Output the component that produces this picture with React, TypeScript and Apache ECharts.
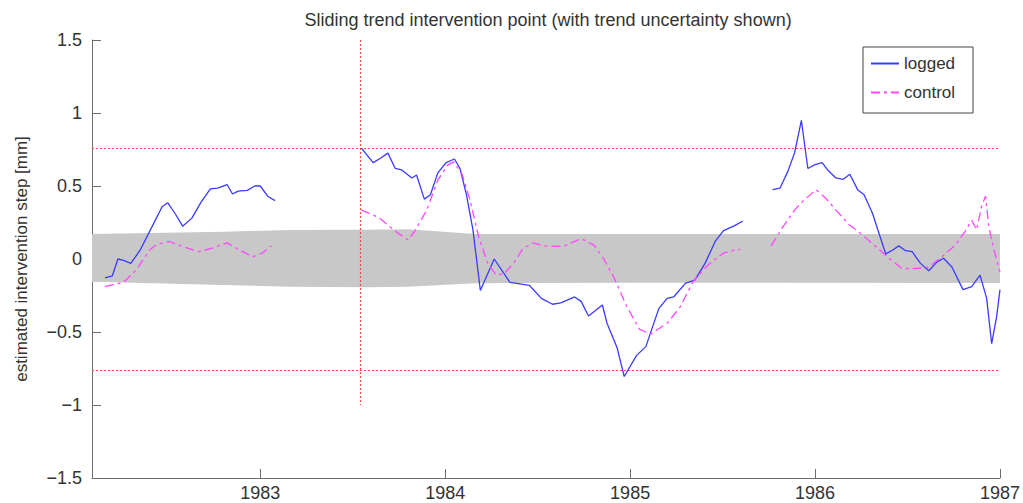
import React, { useEffect, useRef } from "react";
import * as echarts from "echarts";

// ---- data (years on x, estimated step [mm] on y) ----
const logged1: [number, number][] = [
  [1982.16, -0.13], [1982.2, -0.115], [1982.23, 0.0], [1982.26, -0.01], [1982.3, -0.03],
  [1982.35, 0.06], [1982.39, 0.16], [1982.47, 0.36], [1982.5, 0.385], [1982.54, 0.31],
  [1982.58, 0.225], [1982.63, 0.28], [1982.68, 0.39], [1982.73, 0.48], [1982.77, 0.485],
  [1982.82, 0.51], [1982.85, 0.445], [1982.88, 0.465], [1982.93, 0.47], [1982.97, 0.5],
  [1983.0, 0.5], [1983.04, 0.43], [1983.08, 0.4],
];
const logged2: [number, number][] = [
  [1983.547, 0.76], [1983.61, 0.66], [1983.65, 0.69], [1983.69, 0.725], [1983.73, 0.62],
  [1983.765, 0.61], [1983.82, 0.555], [1983.845, 0.575], [1983.887, 0.41], [1983.92, 0.44],
  [1983.96, 0.59], [1984.005, 0.66], [1984.05, 0.685], [1984.08, 0.62], [1984.115, 0.44],
  [1984.15, 0.2], [1984.19, -0.215], [1984.265, 0.0], [1984.35, -0.16], [1984.455, -0.18],
  [1984.52, -0.27], [1984.58, -0.31], [1984.625, -0.3], [1984.7, -0.26], [1984.735, -0.29],
  [1984.775, -0.39], [1984.85, -0.315], [1984.875, -0.44], [1984.93, -0.61], [1984.968, -0.805],
  [1985.035, -0.66], [1985.085, -0.6], [1985.155, -0.34], [1985.2, -0.27], [1985.235, -0.26],
  [1985.3, -0.165], [1985.35, -0.145], [1985.405, -0.03], [1985.46, 0.12], [1985.505, 0.195],
  [1985.56, 0.225], [1985.61, 0.26],
];
const logged3: [number, number][] = [
  [1985.77, 0.475], [1985.81, 0.485], [1985.853, 0.6], [1985.89, 0.73], [1985.926, 0.95],
  [1985.961, 0.62], [1985.997, 0.645], [1986.038, 0.66], [1986.068, 0.61], [1986.113, 0.555],
  [1986.15, 0.545], [1986.188, 0.58], [1986.23, 0.475], [1986.265, 0.44], [1986.31, 0.315],
  [1986.346, 0.175], [1986.382, 0.035], [1986.418, 0.06], [1986.453, 0.09], [1986.49, 0.057],
  [1986.525, 0.05], [1986.57, -0.03], [1986.615, -0.08], [1986.66, -0.02], [1986.695, 0.005],
  [1986.74, -0.055], [1986.8, -0.21], [1986.847, -0.19], [1986.892, -0.11], [1986.928, -0.27],
  [1986.955, -0.58], [1986.982, -0.395], [1987.0, -0.21],
];
const control1: [number, number][] = [
  [1982.16, -0.19], [1982.26, -0.16], [1982.33, -0.075], [1982.4, 0.06], [1982.44, 0.1],
  [1982.51, 0.12], [1982.58, 0.085], [1982.67, 0.05], [1982.74, 0.075], [1982.82, 0.11],
  [1982.89, 0.06], [1982.96, 0.015], [1983.01, 0.04], [1983.06, 0.09],
];
const control2: [number, number][] = [
  [1983.547, 0.335], [1983.64, 0.285], [1983.73, 0.19], [1983.8, 0.13], [1983.835, 0.19],
  [1983.9, 0.335], [1983.96, 0.54], [1984.015, 0.645], [1984.045, 0.665], [1984.09, 0.585],
  [1984.135, 0.4], [1984.18, 0.155], [1984.23, -0.03], [1984.275, -0.11], [1984.32, -0.1],
  [1984.375, -0.02], [1984.42, 0.07], [1984.475, 0.11], [1984.555, 0.085], [1984.645, 0.09],
  [1984.735, 0.14], [1984.805, 0.095], [1984.86, -0.005], [1984.91, -0.12], [1984.98, -0.32],
  [1985.05, -0.48], [1985.11, -0.515], [1985.2, -0.44], [1985.27, -0.33], [1985.34, -0.155],
  [1985.395, -0.075], [1985.44, -0.02], [1985.505, 0.04], [1985.56, 0.06], [1985.595, 0.065],
];
const control3: [number, number][] = [
  [1985.763, 0.09], [1985.826, 0.22], [1985.889, 0.335], [1985.934, 0.395], [1986.005, 0.475],
  [1986.059, 0.415], [1986.113, 0.335], [1986.185, 0.235], [1986.256, 0.165], [1986.328, 0.085],
  [1986.4, 0.005], [1986.47, -0.065], [1986.543, -0.065], [1986.615, -0.055], [1986.686, 0.015],
  [1986.758, 0.095], [1986.812, 0.19], [1986.847, 0.265], [1986.874, 0.2], [1986.9, 0.36],
  [1986.922, 0.43], [1986.94, 0.22], [1986.963, 0.085], [1987.0, -0.09],
];

// trend uncertainty band
const bandX = [1982.09, 1982.8, 1983.16, 1983.57, 1983.8, 1984.16, 1985.09, 1987.0];
const bandUpper = [0.171, 0.187, 0.199, 0.201, 0.203, 0.171, 0.171, 0.171];
const bandLower = [-0.155, -0.178, -0.19, -0.194, -0.19, -0.166, -0.162, -0.164];

// thresholds and intervention marker
const thresholds = [0.76, -0.76];
const interventionYear = 1983.54;
const interventionSpan = [1.5, -1.0];

const xTickValues = [1983, 1984, 1985, 1986, 1987];
const xMin = 1982.09;
const xMax = 1987;
const yMin = -1.5;
const yMax = 1.5;

const FONT = "'Liberation Sans', Arial, sans-serif";
const BLUE = "#3b3bff";
const MAGENTA = "#ff45ff";
const RED = "#ff4444";
const TEXT = "#333";
const AXIS = "#6e6e6e";

export default function App() {
  const ref = useRef<HTMLDivElement>(null);
  useEffect(() => {
    if (!ref.current) return;
    const chart = echarts.init(ref.current, undefined, { renderer: "svg" });
    const loggedStyle = { color: BLUE, width: 1.3, type: "solid" as const };
    const controlStyle = { color: MAGENTA, width: 1.3, type: [9, 4, 3, 4] as any };
    const lineSeries = (name: string, data: [number, number][], style: any) => ({
      name,
      type: "line",
      data,
      showSymbol: false,
      symbol: "none",
      color: style.color,
      lineStyle: style,
      z: 5,
      silent: true,
    });
    chart.setOption({
      animation: false,
      textStyle: { fontFamily: FONT },
      grid: { left: 92, right: 18, top: 40, bottom: 25, containLabel: false },
      graphic: [
        {
          type: "text",
          x: 548,
          y: 20,
          style: {
            text: "Sliding trend intervention point (with trend uncertainty shown)",
            fontFamily: FONT,
            fontSize: 18,
            fill: TEXT,
            align: "center",
            verticalAlign: "middle",
          },
        },
        {
          type: "rect",
          shape: { x: 863, y: 47, width: 110, height: 66 },
          style: { fill: "#fff", stroke: "#444", lineWidth: 1 },
          z: 10,
        },
      ],
      legend: {
        data: ["logged", "control"],
        orient: "vertical",
        left: 870,
        top: 55,
        padding: 0,
        itemWidth: 28,
        itemHeight: 17,
        itemGap: 12,
        z: 20,
        itemStyle: { opacity: 0 },
        textStyle: { fontFamily: FONT, fontSize: 17, color: TEXT },
      },
      xAxis: {
        type: "value",
        min: xMin,
        max: xMax,
        splitLine: { show: false },
        axisLine: { show: true, onZero: false, lineStyle: { color: AXIS, width: 1 } },
        axisTick: { show: true, inside: true, length: 9, customValues: xTickValues, lineStyle: { color: AXIS } },
        axisLabel: {
          customValues: xTickValues,
          margin: 6,
          fontSize: 18,
          color: TEXT,
          fontFamily: FONT,
          formatter: (v: number) => String(Math.round(v)),
        },
      },
      yAxis: {
        type: "value",
        min: yMin,
        max: yMax,
        interval: 0.5,
        splitLine: { show: false },
        axisLine: { show: true, onZero: false, lineStyle: { color: AXIS, width: 1 } },
        axisTick: { show: true, inside: true, length: 9, lineStyle: { color: AXIS } },
        axisLabel: {
          margin: 10,
          fontSize: 18,
          color: TEXT,
          fontFamily: FONT,
          formatter: (v: number) => String(v).replace("-", "\u2212"),
        },
        name: "estimated intervention step [mm]",
        nameLocation: "middle",
        nameRotate: 90,
        nameGap: 62,
        nameTextStyle: { fontSize: 17, color: TEXT, fontFamily: FONT },
      },
      series: [
        {
          name: "band",
          type: "custom",
          coordinateSystem: "cartesian2d",
          silent: true,
          z: 1,
          encode: { x: 0, y: [1, 2] },
          data: bandX.map((x, i) => [x, bandUpper[i], bandLower[i]]),
          renderItem: (params: any, api: any) => {
            if (params.dataIndex !== 0) return { type: "group", children: [] };
            const pts: number[][] = [];
            for (let i = 0; i < bandX.length; i++) pts.push(api.coord([bandX[i], bandUpper[i]]));
            for (let i = bandX.length - 1; i >= 0; i--) pts.push(api.coord([bandX[i], bandLower[i]]));
            return { type: "polygon", shape: { points: pts }, style: { fill: "#c8c8c8", stroke: "none" } };
          },
        },
        {
          name: "limits",
          type: "line",
          data: [],
          silent: true,
          z: 3,
          markLine: {
            silent: true,
            symbol: "none",
            label: { show: false },
            lineStyle: { color: RED, type: [2, 2], width: 1.2 },
            data: [
              ...thresholds.map((t) => ({ yAxis: t })),
              [
                { coord: [interventionYear, interventionSpan[0]] },
                { coord: [interventionYear, interventionSpan[1]] },
              ],
            ],
          },
        },
        lineSeries("logged", logged1, loggedStyle),
        lineSeries("logged", logged2, loggedStyle),
        lineSeries("logged", logged3, loggedStyle),
        lineSeries("control", control1, controlStyle),
        lineSeries("control", control2, controlStyle),
        lineSeries("control", control3, controlStyle),
      ],
    });
    return () => chart.dispose();
  }, []);
  return (
    <div
      ref={ref}
      style={{ position: "fixed", left: 0, top: 0, width: 1023, height: 503, background: "#fff" }}
    />
  );
}
